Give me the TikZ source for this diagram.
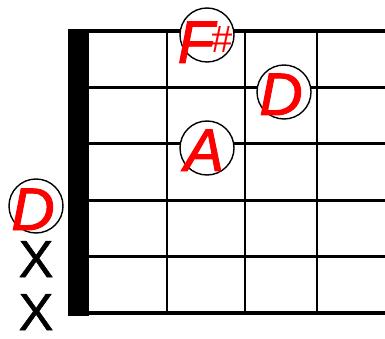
\documentclass[tikz,border=0pt]{standalone}
\usepackage{fontspec}
\setmainfont{Liberation Sans}
\newfontfamily\notefont{Liberation Sans}[UprightFeatures={FakeBold=1.6},ItalicFeatures={FakeBold=1.6}]
\newfontfamily\mutefont{Liberation Sans}[UprightFeatures={FakeBold=1}]
\begin{document}
\begin{tikzpicture}[x=1pt,y=-1pt,
  stringline/.style={line width=3.2pt},
  fretline/.style={line width=2.6pt},
  notecirc/.style={circle,draw=black,line width=1.4pt,fill=white,minimum size=54pt,inner sep=0pt},
  notelbl/.style={text=red,font=\notefont\fontsize{60}{60}\selectfont\itshape,inner sep=0pt,anchor=base},
  sharplbl/.style={text=red,font=\fontsize{38}{38}\selectfont,inner sep=0pt,anchor=base},
  mutelbl/.style={text=black,font=\mutefont\fontsize{52}{52}\selectfont,inner sep=0pt,anchor=base}]
\useasboundingbox (0,0) rectangle (385,339);
% frets
\foreach \x in {167,245,317} \draw[fretline] (\x,31) -- (\x,313);
% strings
\foreach \y in {31,87.4,143.8,200.2,256.6} \draw[stringline] (88,\y) -- (385,\y);
\draw[line width=4.4pt] (88,313) -- (385,313);
% nut
\fill (68,29.5) rectangle (88.5,316);
% notes
\node[notecirc] (c1) at (207,35) {};
\node[notecirc] (c2) at (284,92) {};
\node[notecirc] (c3) at (207,148) {};
\node[notecirc] (c4) at (36,206) {};
\node[notelbl] (f) at (196,63) {F};
\node[sharplbl] (s) at (222.5,53) {\#};
\node[notelbl] (d1) at (281,115) {D};
\node[notelbl] (a) at (204,171) {A};
\node[notelbl] (d2) at (33,230) {D};
\node[mutelbl] (x1) at (36,277) {X};
\node[mutelbl] (x2) at (36,330) {X};
\end{tikzpicture}
\end{document}
